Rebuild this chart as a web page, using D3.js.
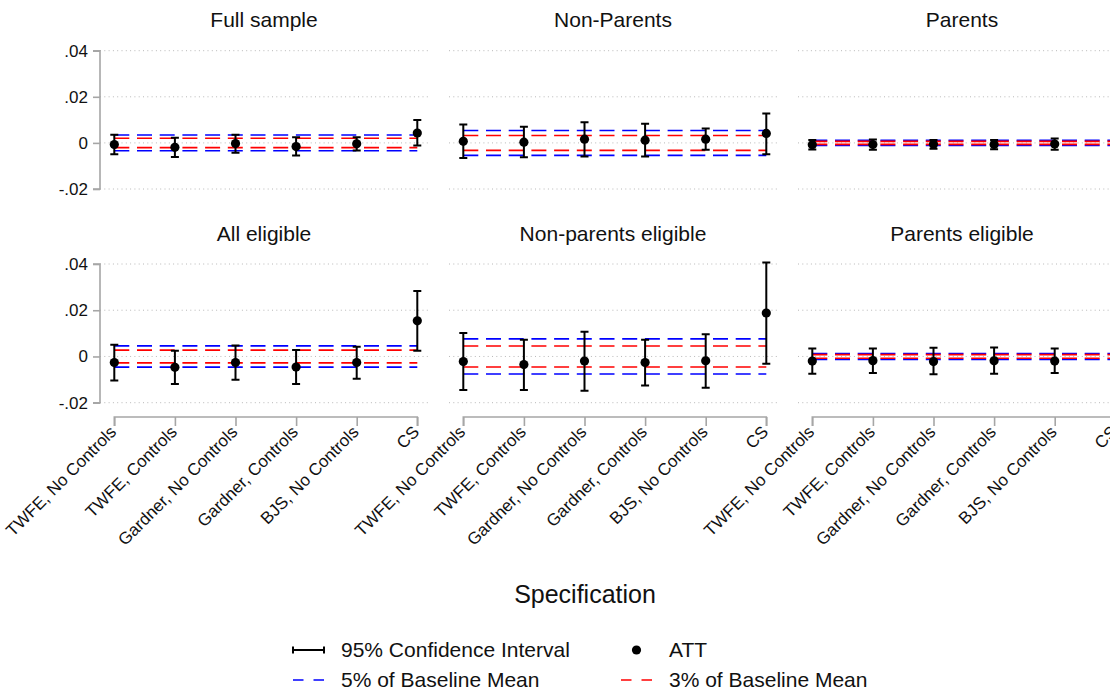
<!DOCTYPE html>
<html>
<head>
<meta charset="utf-8">
<script src="https://cdn.jsdelivr.net/npm/d3@7"></script>
<style>
  html, body { margin: 0; padding: 0; background: #ffffff; }
  svg { display: block; }
  text { font-family: "Liberation Sans", Arial, Helvetica, sans-serif; fill: #111; }
</style>
</head>
<body>
<svg id="chart" width="1110" height="693"></svg>
<script>
// Estimation specifications (x categories)
const specs = [
  "TWFE, No Controls", "TWFE, Controls", "Gardner, No Controls",
  "Gardner, Controls", "BJS, No Controls", "CS"
];

// Panel titles, row by row
const panelTitles = [
  "Full sample", "Non-Parents", "Parents",
  "All eligible", "Non-parents eligible", "Parents eligible"
];

// Point estimates (ATT) for each panel, one per specification
const att = [
  [-0.0007, -0.0019, -0.0003, -0.0016, -0.0004, 0.0043],
  [0.0007, 0.0003, 0.0016, 0.0012, 0.0016, 0.0041],
  [-0.0008, -0.0007, -0.0006, -0.0007, -0.0005, null],
  [-0.0026, -0.0047, -0.0026, -0.0046, -0.0026, 0.0154],
  [-0.0022, -0.0035, -0.0020, -0.0026, -0.0019, 0.0188],
  [-0.0020, -0.0018, -0.0022, -0.0019, -0.0020, null]
];

// 95% confidence interval, lower bounds
const ciLow = [
  [-0.0049, -0.0061, -0.0043, -0.0055, -0.0033, -0.0011],
  [-0.0065, -0.0062, -0.0059, -0.0059, -0.0030, -0.0049],
  [-0.0029, -0.0030, -0.0025, -0.0028, -0.0030, null],
  [-0.0104, -0.0119, -0.0101, -0.0119, -0.0096, 0.0025],
  [-0.0145, -0.0145, -0.0148, -0.0126, -0.0135, -0.0032],
  [-0.0075, -0.0072, -0.0077, -0.0075, -0.0072, null]
];

// 95% confidence interval, upper bounds
const ciHigh = [
  [0.0035, 0.0022, 0.0035, 0.0025, 0.0025, 0.0099],
  [0.0080, 0.0070, 0.0090, 0.0083, 0.0063, 0.0128],
  [0.0013, 0.0015, 0.0013, 0.0013, 0.0019, null],
  [0.0051, 0.0025, 0.0047, 0.0028, 0.0042, 0.0283],
  [0.0101, 0.0072, 0.0107, 0.0072, 0.0096, 0.0407],
  [0.0034, 0.0034, 0.0038, 0.0039, 0.0034, null]
];

// Baseline mean of the outcome in each sample
const baselineMean = [0.068, 0.108, 0.022, 0.092, 0.152, 0.026];

// Reference bands drawn as ± a share of the baseline mean
const bandShares = [0.05, 0.03];
const bandColors = ["#0000ff", "#ff0000"];

// Y axis ticks
const yTicks = [-0.02, 0, 0.02, 0.04];
const yTickLabels = ["-.02", "0", ".02", ".04"];

// Legend entries
const legendLabels = ["95% Confidence Interval", "ATT", "5% of Baseline Mean", "3% of Baseline Mean"];

const svg = d3.select("#chart");

// Panel layout
const colX = [100, 449, 798];
const panelW = 328;
const rowTop = [50.7, 264];      // pixel position of the top of the y range
const rowBottom = [189, 402.7];  // pixel position of the bottom of the y range
const axisGray = "#a6a6a6";
const dash = "15,7.7";

const yScales = rowTop.map((t, r) =>
  d3.scaleLinear().domain([-0.02, 0.04]).range([rowBottom[r], t]));

panelTitles.forEach((title, p) => {
  const row = Math.floor(p / 3), col = p % 3;
  const x0 = colX[col];
  const y = yScales[row];
  const x = d3.scalePoint().domain(specs).range([x0 + 14.3, x0 + 317.3]);
  const g = svg.append("g");

  // dotted horizontal grid
  g.selectAll("line.grid").data(yTicks).join("line")
    .attr("x1", x0).attr("x2", x0 + panelW)
    .attr("y1", d => y(d)).attr("y2", d => y(d))
    .attr("stroke", "#b8b8b8").attr("stroke-width", 1)
    .attr("stroke-dasharray", "1,3.3");

  // panel title
  g.append("text")
    .attr("x", x0 + panelW / 2).attr("y", row === 0 ? 27 : 240.7)
    .attr("text-anchor", "middle").attr("font-size", 21)
    .text(title);

  // y axis on the first column
  if (col === 0) {
    const yAxis = d3.axisLeft(y).tickValues(yTicks)
      .tickFormat((d, i) => yTickLabels[i]).tickSize(7).tickPadding(5);
    const ga = g.append("g").attr("transform", `translate(${x0},0)`).call(yAxis);
    ga.select(".domain").attr("stroke", axisGray).attr("stroke-width", 1.6)
      .attr("d", `M-7,${y(0.04)}H0V${y(-0.02)}H-7`);
    ga.selectAll(".tick line").attr("stroke", axisGray).attr("stroke-width", 1.6);
    ga.selectAll(".tick text").attr("font-size", 17)
      .attr("font-family", "'Liberation Sans', Arial, Helvetica, sans-serif")
      .attr("fill", "#111");
  }

  // x axis on the bottom row
  if (row === 1) {
    const axisY = 417;
    const xAxis = d3.axisBottom(x).tickSize(9).tickFormat("");
    const ga = g.append("g").attr("transform", `translate(0,${axisY})`).call(xAxis);
    ga.select(".domain").attr("stroke", axisGray).attr("stroke-width", 1.6)
      .attr("d", `M${x(specs[0])},9V0H${x(specs[specs.length - 1])}V9`);
    ga.selectAll(".tick line").attr("stroke", axisGray).attr("stroke-width", 1.6);
    g.selectAll("text.xl").data(specs).join("text")
      .attr("class", "xl")
      .attr("font-size", 17)
      .attr("text-anchor", "end")
      .attr("transform", d => `translate(${x(d) + 3},${axisY + 16}) rotate(-45)`)
      .text(d => d);
  }

  // ± share-of-baseline reference lines
  const xs = x(specs[0]), xe = x(specs[specs.length - 1]);
  bandShares.forEach((s, k) => {
    [1, -1].forEach(sign => {
      g.append("line")
        .attr("x1", xs).attr("x2", xe)
        .attr("y1", y(sign * s * baselineMean[p]))
        .attr("y2", y(sign * s * baselineMean[p]))
        .attr("stroke", bandColors[k]).attr("stroke-width", 1.6)
        .attr("stroke-dasharray", dash);
    });
  });

  // confidence intervals with caps
  const rows = specs.map((s, i) => ({
    s, v: att[p][i], lo: ciLow[p][i], hi: ciHigh[p][i]
  })).filter(d => d.v !== null);

  g.selectAll("path.ci").data(rows).join("path")
    .attr("d", d => {
      const cx = x(d.s), a = y(d.hi), b = y(d.lo);
      return `M${cx - 4},${a}H${cx + 4}M${cx},${a}V${b}M${cx - 4},${b}H${cx + 4}`;
    })
    .attr("fill", "none").attr("stroke", "#000").attr("stroke-width", 2);

  // ATT markers
  g.selectAll("circle.att").data(rows).join("circle")
    .attr("cx", d => x(d.s)).attr("cy", d => y(d.v)).attr("r", 4.6)
    .attr("fill", "#000");
});

// x axis title
svg.append("text")
  .attr("x", 585).attr("y", 603)
  .attr("text-anchor", "middle").attr("font-size", 25)
  .text("Specification");

// legend
const leg = svg.append("g");
const keyX = [293, 621], textX = [341, 669], rowY = [657, 687];
legendLabels.forEach((lab, i) => {
  const c = i % 2, r = Math.floor(i / 2);
  const ky = rowY[r] - 7;
  const kx = keyX[c];
  if (i === 0) {
    leg.append("path")
      .attr("d", `M${kx},${ky - 3.5}V${ky + 3.5}M${kx},${ky}H${kx + 31}M${kx + 31},${ky - 3.5}V${ky + 3.5}`)
      .attr("stroke", "#000").attr("stroke-width", 2).attr("fill", "none");
  } else if (i === 1) {
    leg.append("circle").attr("cx", kx + 15.5).attr("cy", ky).attr("r", 4.6).attr("fill", "#000");
  } else {
    leg.append("line")
      .attr("x1", kx).attr("x2", kx + 31).attr("y1", ky).attr("y2", ky)
      .attr("stroke", bandColors[i - 2]).attr("stroke-width", 1.6)
      .attr("stroke-dasharray", "10.5,10");
  }
  leg.append("text").attr("x", textX[c]).attr("y", rowY[r])
    .attr("font-size", 21).text(lab);
});
</script>
</body>
</html>
